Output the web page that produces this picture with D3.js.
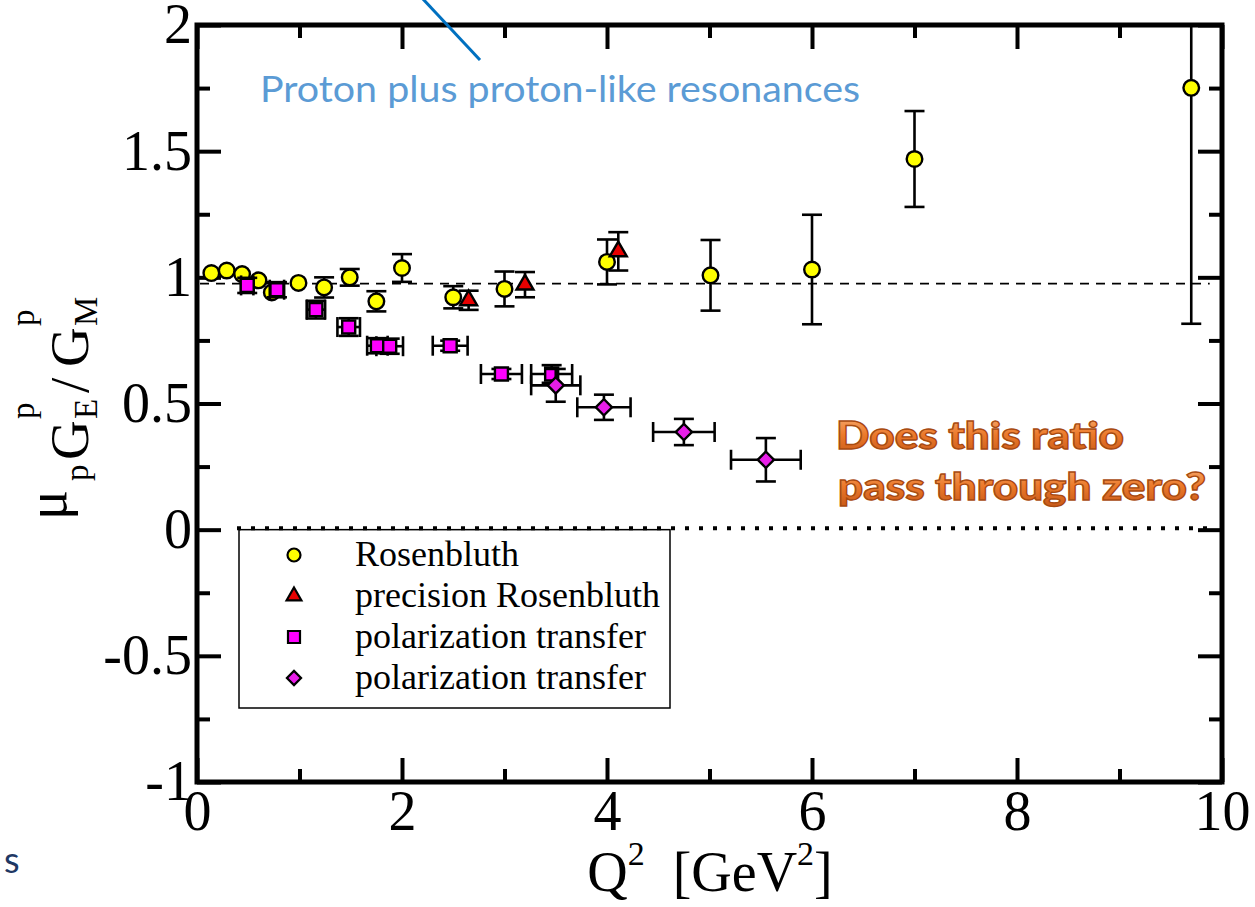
<!DOCTYPE html>
<html>
<head>
<meta charset="utf-8">
<script src="https://cdn.jsdelivr.net/npm/d3@7"></script>
<style>
  html, body { margin: 0; padding: 0; background: #fff; }
  svg { display: block; }
</style>
</head>
<body>
<svg id="chart" width="1255" height="907"></svg>
<script>
// ---------------- DATA ----------------
const rosenQ   = [0.14, 0.29, 0.44, 0.60, 0.73, 0.99, 1.24, 1.49, 1.75, 2.00, 2.50, 3.00, 4.00, 5.01, 6.00, 7.00, 9.70];
const rosenR   = [1.017, 1.027, 1.013, 0.988, 0.940, 0.978, 0.960, 1.000, 0.905, 1.037, 0.921, 0.954, 1.061, 1.008, 1.031, 1.469, 1.751];
const rosenErr = [0, 0, 0, 0, 0, 0, 0.040, 0.033, 0.040, 0.055, 0.044, 0.069, 0.089, 0.140, 0.217, 0.190, 0.935];

const precQ   = [2.65, 3.20, 4.11];
const precR   = [0.909, 0.971, 1.103];
const precErr = [0.038, 0.050, 0.076];

const polQ    = [0.49, 0.78, 1.16, 1.48, 1.76, 1.88, 2.47, 2.97, 3.46];
const polR    = [0.968, 0.951, 0.872, 0.803, 0.729, 0.727, 0.729, 0.617, 0.617];
const polErr  = [0.030, 0.030, 0.035, 0.035, 0.030, 0.030, 0.020, 0.020, 0.035];
const polXErr = [0.06, 0.07, 0.09, 0.11, 0.10, 0.13, 0.17, 0.20, 0.20];

const diaQ    = [3.50, 3.97, 4.75, 5.55];
const diaR    = [0.572, 0.485, 0.387, 0.277];
const diaErr  = [0.065, 0.050, 0.052, 0.086];
const diaXErr = [0.24, 0.26, 0.30, 0.34];

const xMajorTicks = [0, 2, 4, 6, 8, 10];
const xTickLabels = ["0", "2", "4", "6", "8", "10"];
const xMinorTicks = [1, 3, 5, 7, 9];
const yMajorTicks = [-1, -0.5, 0, 0.5, 1, 1.5, 2];
const yTickLabels = ["-1", "-0.5", "0", "0.5", "1", "1.5", "2"];
const yMinorTicks = [-0.75, -0.25, 0.25, 0.75, 1.25, 1.75];

const legendLabels = ["Rosenbluth", "precision Rosenbluth", "polarization transfer", "polarization transfer"];
const refLineValue = 0.975;
const zeroLineValue = 0;

// ---------------- LAYOUT ----------------
const svg = d3.select("#chart");
const L = 197, R = 1222, T = 25, B = 782;
const x = d3.scaleLinear().domain([0, 10]).range([L, R]);
const y = d3.scaleLinear().domain([-1, 2]).range([B, T]);
const serif = "'Liberation Serif', 'Times New Roman', serif";
const sans = "Lato, 'Open Sans', sans-serif";

const defs = svg.append("defs");
defs.append("clipPath").attr("id", "plotclip")
  .append("rect").attr("x", L).attr("y", T).attr("width", R - L).attr("height", B - T);
const grad = defs.append("linearGradient").attr("id", "orangeGrad")
  .attr("x1", 0).attr("y1", 0).attr("x2", 0).attr("y2", 1);
grad.append("stop").attr("offset", "0%").attr("stop-color", "#F8B27A");
grad.append("stop").attr("offset", "50%").attr("stop-color", "#EC7A2C");
grad.append("stop").attr("offset", "100%").attr("stop-color", "#C65718");

// ---------------- AXES ----------------
function styleAxis(g) {
  g.select(".domain").remove();
  g.selectAll(".tick line").attr("stroke", "#000").attr("stroke-width", 4);
  g.selectAll(".tick text").attr("fill", "#000").attr("font-family", serif).attr("font-size", 56);
}
svg.append("g").attr("transform", `translate(0,${B})`)
  .call(d3.axisBottom(x).tickValues(xMajorTicks).tickFormat((d, i) => xTickLabels[i])
    .tickSizeInner(-24).tickSizeOuter(0).tickPadding(8)).call(styleAxis);
svg.append("g").attr("transform", `translate(0,${B})`)
  .call(d3.axisBottom(x).tickValues(xMinorTicks).tickFormat("").tickSizeInner(-13).tickSizeOuter(0)).call(styleAxis);
svg.append("g").attr("transform", `translate(0,${T})`)
  .call(d3.axisTop(x).tickValues(xMajorTicks).tickFormat("").tickSizeInner(-24).tickSizeOuter(0)).call(styleAxis);
svg.append("g").attr("transform", `translate(0,${T})`)
  .call(d3.axisTop(x).tickValues(xMinorTicks).tickFormat("").tickSizeInner(-13).tickSizeOuter(0)).call(styleAxis);
svg.append("g").attr("transform", `translate(${L},0)`)
  .call(d3.axisLeft(y).tickValues(yMajorTicks).tickFormat((d, i) => yTickLabels[i])
    .tickSizeInner(-24).tickSizeOuter(0).tickPadding(5)).call(styleAxis);
svg.append("g").attr("transform", `translate(${L},0)`)
  .call(d3.axisLeft(y).tickValues(yMinorTicks).tickFormat("").tickSizeInner(-13).tickSizeOuter(0)).call(styleAxis);
svg.append("g").attr("transform", `translate(${R},0)`)
  .call(d3.axisRight(y).tickValues(yMajorTicks).tickFormat("").tickSizeInner(-24).tickSizeOuter(0)).call(styleAxis);
svg.append("g").attr("transform", `translate(${R},0)`)
  .call(d3.axisRight(y).tickValues(yMinorTicks).tickFormat("").tickSizeInner(-13).tickSizeOuter(0)).call(styleAxis);

svg.append("rect").attr("x", L).attr("y", T).attr("width", R - L).attr("height", B - T)
  .attr("fill", "none").attr("stroke", "#000").attr("stroke-width", 5);

// ---------------- REFERENCE LINES ----------------
svg.append("line").attr("x1", L + 3).attr("x2", x(9.88))
  .attr("y1", y(refLineValue)).attr("y2", y(refLineValue))
  .attr("stroke", "#000").attr("stroke-width", 1.8).attr("stroke-dasharray", "9,7");

// ---------------- LEGEND BOX ----------------
const lg = svg.append("g");
lg.append("rect").attr("x", 239).attr("y", y(zeroLineValue)).attr("width", 431).attr("height", 708 - y(zeroLineValue))
  .attr("fill", "#fff").attr("stroke", "#000").attr("stroke-width", 1.5);

svg.append("line").attr("x1", 237).attr("x2", x(9.92))
  .attr("y1", y(zeroLineValue) - 1.5).attr("y2", y(zeroLineValue) - 1.5)
  .attr("stroke", "#000").attr("stroke-width", 4).attr("stroke-dasharray", "4,10");

// ---------------- DATA MARKS ----------------
const plot = svg.append("g").attr("clip-path", "url(#plotclip)");
const CAP = 10;

function errorBars(qs, rs, errs, xerrs) {
  const g = plot.append("g").attr("stroke", "#000").attr("stroke-width", 2.6).attr("fill", "none");
  qs.forEach((q, i) => {
    const e = errs[i];
    if (e > 0) {
      g.append("line").attr("x1", x(q)).attr("x2", x(q)).attr("y1", y(rs[i] - e)).attr("y2", y(rs[i] + e));
      g.append("line").attr("x1", x(q) - CAP).attr("x2", x(q) + CAP).attr("y1", y(rs[i] - e)).attr("y2", y(rs[i] - e));
      g.append("line").attr("x1", x(q) - CAP).attr("x2", x(q) + CAP).attr("y1", y(rs[i] + e)).attr("y2", y(rs[i] + e));
    }
    if (xerrs && xerrs[i] > 0) {
      const xe = xerrs[i];
      g.append("line").attr("x1", x(q - xe)).attr("x2", x(q + xe)).attr("y1", y(rs[i])).attr("y2", y(rs[i]));
      g.append("line").attr("x1", x(q - xe)).attr("x2", x(q - xe)).attr("y1", y(rs[i]) - CAP).attr("y2", y(rs[i]) + CAP);
      g.append("line").attr("x1", x(q + xe)).attr("x2", x(q + xe)).attr("y1", y(rs[i]) - CAP).attr("y2", y(rs[i]) + CAP);
    }
  });
}

const symCircle   = d3.symbol().type(d3.symbolCircle).size(Math.PI * 7.8 * 7.8);
const symTriangle = d3.symbol().type(d3.symbolTriangle).size(125);
const symSquare   = d3.symbol().type(d3.symbolSquare).size(13 * 13);
const symDiamond  = d3.symbol().type(d3.symbolSquare).size(11.5 * 11.5);

function markers(qs, rs, path, fill, rot) {
  plot.append("g").selectAll("path").data(qs).join("path")
    .attr("d", path)
    .attr("transform", (q, i) => `translate(${x(q)},${y(rs[i])})` + (rot ? " rotate(45)" : ""))
    .attr("fill", fill).attr("stroke", "#000").attr("stroke-width", 2.4);
}

errorBars(rosenQ, rosenR, rosenErr, null);
markers(rosenQ, rosenR, symCircle, "#FFFF00", false);
errorBars(precQ, precR, precErr, null);
markers(precQ, precR, symTriangle, "#E80000", false);
errorBars(polQ, polR, polErr, polXErr);
markers(polQ, polR, symSquare, "#FF00FF", false);
errorBars(diaQ, diaR, diaErr, diaXErr);
markers(diaQ, diaR, symDiamond, "#E81EE8", true);

// ---------------- LEGEND ENTRIES ----------------
const legSyms = [
  { p: d3.symbol().type(d3.symbolCircle).size(Math.PI * 6.5 * 6.5), f: "#FFFF00", r: false },
  { p: d3.symbol().type(d3.symbolTriangle).size(95), f: "#E80000", r: false },
  { p: d3.symbol().type(d3.symbolSquare).size(12 * 12), f: "#FF00FF", r: false },
  { p: d3.symbol().type(d3.symbolSquare).size(10 * 10), f: "#E81EE8", r: true }
];
legendLabels.forEach((lab, i) => {
  const by = 566 + i * 41;
  lg.append("path").attr("d", legSyms[i].p)
    .attr("transform", `translate(294,${by - 11})` + (legSyms[i].r ? " rotate(45)" : ""))
    .attr("fill", legSyms[i].f).attr("stroke", "#000").attr("stroke-width", 2.2);
  lg.append("text").attr("x", 355).attr("y", by).text(lab)
    .attr("font-family", serif).attr("font-size", 36).attr("fill", "#000");
});

// ---------------- AXIS TITLES ----------------
const xt = svg.append("text").attr("x", 710).attr("y", 891).attr("text-anchor", "middle")
  .attr("font-family", serif).attr("font-size", 56).attr("fill", "#000");
xt.append("tspan").text("Q");
xt.append("tspan").attr("font-size", 34).attr("dy", -26).text("2");
xt.append("tspan").attr("dy", 26).text("\u2002[GeV");
xt.append("tspan").attr("font-size", 34).attr("dy", -26).text("2");
xt.append("tspan").attr("dy", 26).text("]");

// y title: pieces placed along the rotated baseline (u = -screenY, v = offset from baseline)
const yt = svg.append("g").attr("transform", "translate(88,0) rotate(-90)")
  .attr("font-family", serif).attr("fill", "#000");
const yPieces = [
  { t: "\u03BC", u: -520, v: -22, s: 56 },
  { t: "p",      u: -481, v: 0,   s: 33 },
  { t: "G",      u: -460, v: 0,   s: 55 },
  { t: "p",      u: -419, v: -54, s: 33 },
  { t: "E",      u: -419, v: 9,   s: 33 },
  { t: "/",      u: -393, v: 0,   s: 55 },
  { t: "G",      u: -367, v: 0,   s: 55 },
  { t: "p",      u: -326, v: -54, s: 33 },
  { t: "M",      u: -326, v: 9,   s: 33 }
];
yPieces.forEach(p => yt.append("text").attr("x", p.u).attr("y", p.v).attr("font-size", p.s).text(p.t));

// ---------------- ANNOTATIONS ----------------
svg.append("line").attr("x1", 422).attr("y1", -2).attr("x2", 480).attr("y2", 60)
  .attr("stroke", "#0070C0").attr("stroke-width", 3);
svg.append("text").attr("x", 260).attr("y", 102).text("Proton plus proton-like resonances")
  .attr("font-family", sans).attr("font-size", 36)
  .attr("fill", "#5B9BD5").attr("textLength", 600).attr("lengthAdjust", "spacingAndGlyphs");

const q1 = svg.append("g").attr("font-family", sans).attr("font-weight", 900)
  .attr("font-size", 37).attr("fill", "url(#orangeGrad)").attr("stroke", "#A84A10").attr("stroke-width", 1.3);
q1.append("text").attr("x", 836).attr("y", 449).text("Does this ratio")
  .attr("textLength", 288).attr("lengthAdjust", "spacingAndGlyphs");
q1.append("text").attr("x", 838).attr("y", 500).text("pass through zero?")
  .attr("textLength", 368).attr("lengthAdjust", "spacingAndGlyphs");

svg.append("text").attr("x", 4).attr("y", 873).text("s")
  .attr("font-family", sans).attr("font-size", 36).attr("fill", "#1F3864");
</script>
</body>
</html>
